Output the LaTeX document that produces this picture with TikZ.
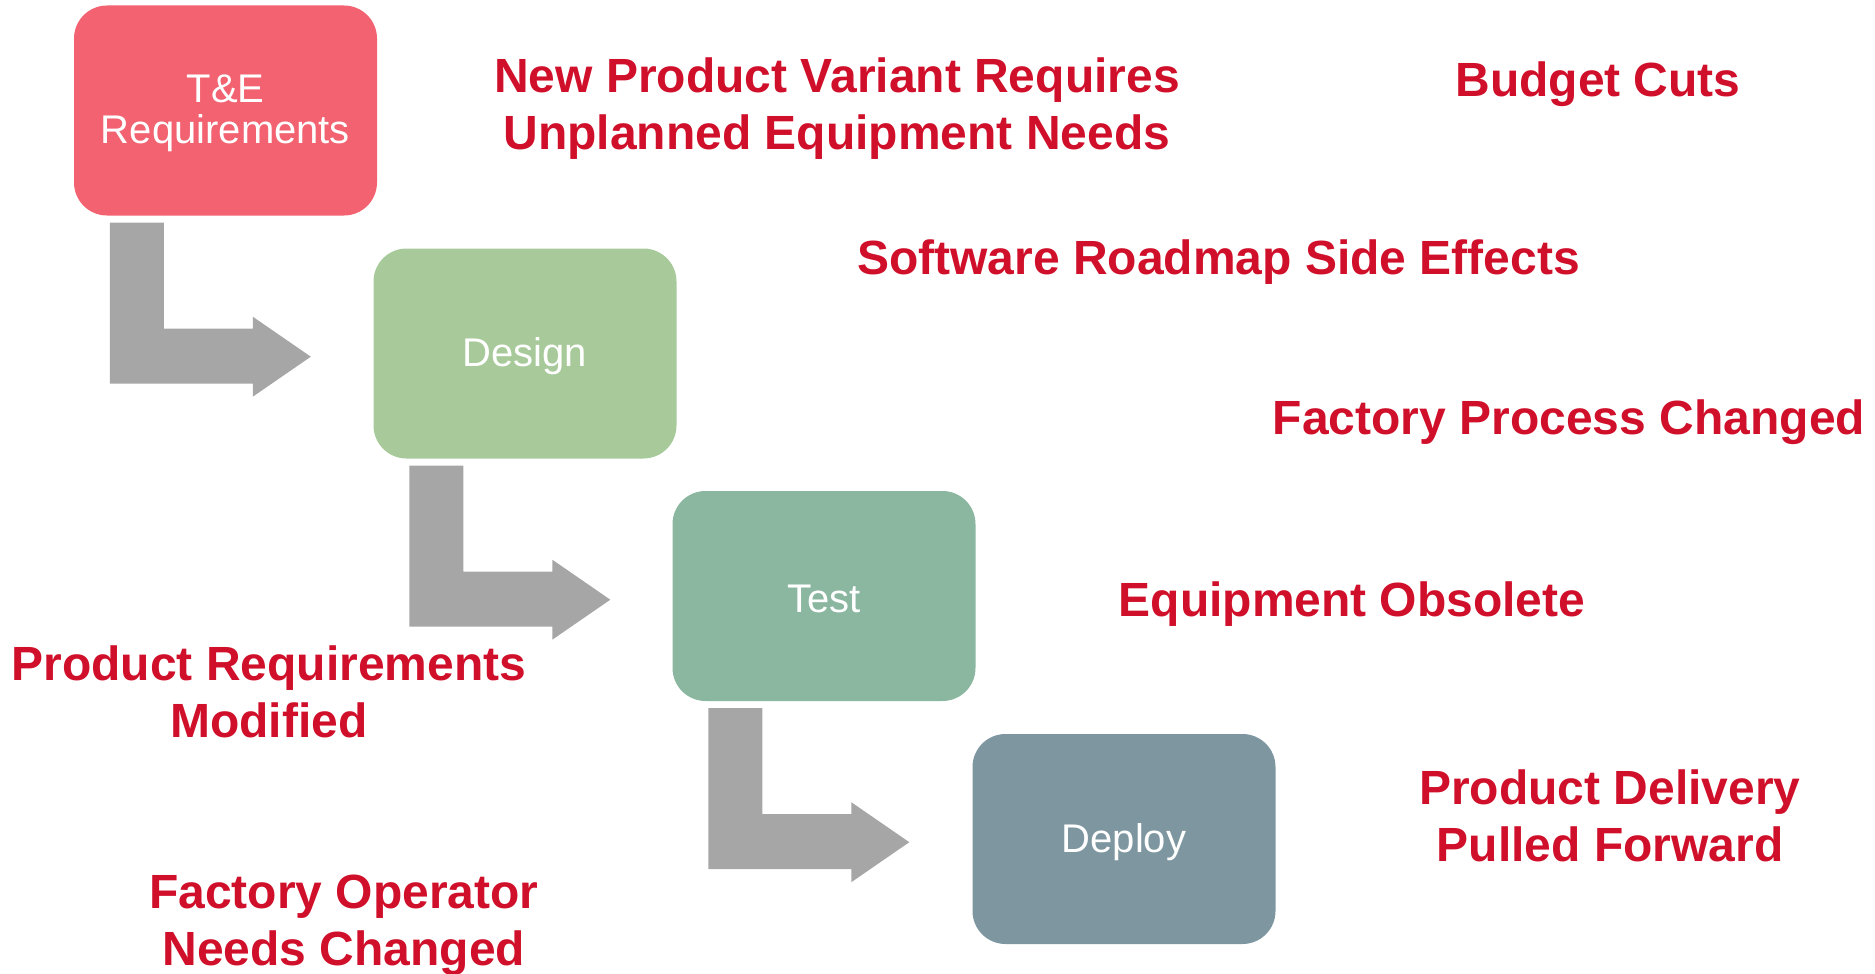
\documentclass[tikz,border=0pt]{standalone}
\usepackage{fontspec}
\setmainfont{Liberation Sans}
\usetikzlibrary{calc}
\definecolor{redtxt}{RGB}{208,16,42}
\definecolor{tecol}{RGB}{242,98,112}
\definecolor{designcol}{RGB}{168,202,155}
\definecolor{testcol}{RGB}{139,183,161}
\definecolor{deploycol}{RGB}{125,150,160}
\definecolor{arrowcol}{RGB}{166,166,166}
\tikzset{
  stagebox/.style={rectangle, rounded corners=33pt, minimum width=303pt, minimum height=210pt, inner sep=0pt},
  stagetext/.style={text=white, align=center, inner sep=0pt, yshift=-3pt, font=\fontsize{40}{41}\selectfont},
  issue/.style={text=redtxt, align=center, inner sep=0pt, anchor=base, font=\fontsize{48}{57}\selectfont\bfseries},
  bentarrow/.style={fill=arrowcol, draw=none}
}
\newcommand{\bentarrowfrom}[1]{%
  \fill[bentarrow] ($(#1.south west)+(36,7)$) -- ($(#1.south west)+(90,7)$) -- ($(#1.south west)+(90,113)$) -- ($(#1.south west)+(179,113)$) -- ($(#1.south west)+(179,101)$) -- ($(#1.south west)+(237,141)$) -- ($(#1.south west)+(179,181)$) -- ($(#1.south west)+(179,168)$) -- ($(#1.south west)+(36,168)$) -- cycle;}
\begin{document}
\begin{tikzpicture}[x=1pt,y=-1pt]
\useasboundingbox (0,0) rectangle (1875,974);
\node[stagebox, fill=tecol, label={[stagetext]center:T\&E\\Requirements}] (te) at (225.5,110.5) {};
\node[stagebox, fill=designcol, label={[stagetext]center:Design}] (design) at (525,353.5) {};
\node[stagebox, fill=testcol, label={[stagetext]center:Test}] (test) at (824,596) {};
\node[stagebox, fill=deploycol, label={[stagetext]center:Deploy}] (deploy) at (1124,839) {};
\bentarrowfrom{te}
\bentarrowfrom{design}
\bentarrowfrom{test}
\node[issue] (i1) at (837,149) {New Product Variant Requires\\Unplanned Equipment Needs};
\node[issue] (i2) at (1598,96) {Budget Cuts};
\node[issue] (i3) at (1218.5,274) {Software Roadmap Side Effects};
\node[issue] (i4) at (1569,434) {Factory Process Changed};
\node[issue] (i5) at (1352,616) {Equipment Obsolete};
\node[issue] (i6) at (269,737) {Product Requirements\\Modified};
\node[issue] (i7) at (344,965) {Factory Operator\\Needs Changed};
\node[issue] (i8) at (1610,861) {Product Delivery\\Pulled Forward};
\end{tikzpicture}
\end{document}
